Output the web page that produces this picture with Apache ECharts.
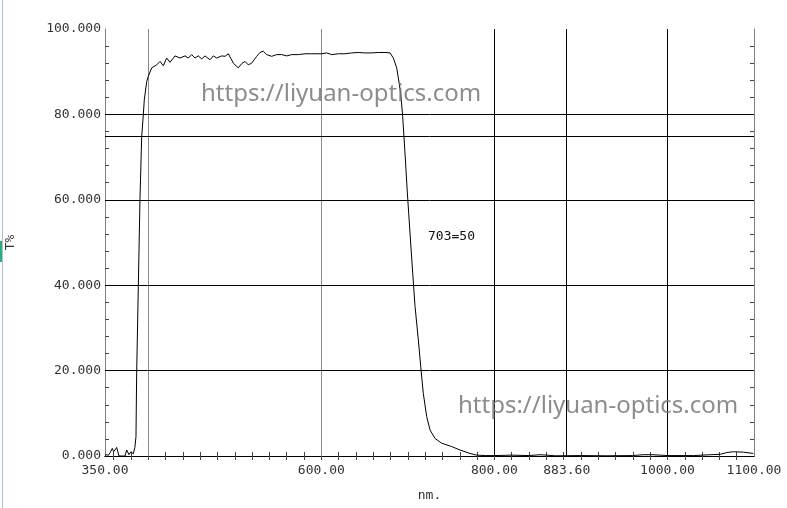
<!DOCTYPE html>
<html>
<head>
<meta charset="utf-8">
<script src="https://cdn.jsdelivr.net/npm/echarts@6/dist/echarts.min.js"></script>
<style>html,body{margin:0;padding:0;background:#fff}#c{width:787px;height:508px}</style>
</head>
<body>
<div id="c"></div>
<script>
// Wavelength (nm) and transmittance (%)
var wavelength = [350,352,354,356,358.4,360,361.6,363.5,366.2,370,373.1,375.1,377.7,380,382.7,384.5,385.8,386.6,388.5,390.4,392.4,394.3,395.4,398.2,
  400,404,409.7,413.6,417.4,421.3,425.1,430.9,436.7,442.5,446.3,450.2,454,457.8,461.8,465.6,471.3,475.2,479.1,484.9,488.7,492.5,498.3,504,508,511.8,515.6,519.5,525.3,529.1,532.9,536.9,542.6,548.4,554.2,560,565.8,573.4,581.1,588.9,600.4,606.2,612,619.6,627.4,635.1,642.7,650.5,658.2,665.8,673.6,679.4,683.2,687.1,689,
  691.7,694,696.7,699.4,702.5,705.6,708.3,712.1,714.9,717.8,721.8,725.6,731.4,739.1,750.7,760.3,771.8,779.6,
  790,800,820,840,852.7,860.8,870,900,930,960,971.8,983.3,1000,1030,1049.4,1061,1068.5,1076.1,1087.6,1099.2,1100];
var transmittance = [0.3,0.5,0.2,0.8,1.8,1.0,1.0,2.0,0.0,0.0,0.0,1.4,0.3,1.0,0.5,2.0,4.5,19.4,39.7,60,74.8,80,83.4,87.7,
  88.9,90.9,91.6,92.4,91.4,93.2,92.2,93.7,93.2,93.7,93.2,94.0,93.2,93.7,93.0,93.7,92.8,93.7,93.2,93.7,93.6,94.2,92.0,90.9,91.9,92.4,91.6,92.0,93.6,94.5,94.8,94.0,93.6,94.0,94.0,93.7,94.0,94.0,94.2,94.2,94.2,94.4,94.0,94.2,94.2,94.4,94.5,94.4,94.4,94.5,94.5,94.4,93.2,90.9,88.5,
  85,79.5,70.9,61.6,52.2,42.8,35,27.2,20.9,14.7,9.2,6.1,4.1,3.0,2.2,1.4,0.6,0.2,
  0.1,0.1,0.2,0.1,0.3,0.2,0.05,0.1,0.05,0.1,0.3,0.3,0.1,0.1,0.3,0.4,0.8,1.0,0.9,0.6,0.6];
var xLabelValues = [350, 600, 800, 883.6, 1000, 1100];
var yLabelValues = [0, 20, 40, 60, 80, 100];
var verticalGrayLines = [400, 600];
var verticalBlackLines = [800, 883.6, 1000];
var horizontalLines = [20, 40, 60, 75, 80];
var annotation = '703=50';
var watermark = 'https://liyuan-optics.com';

var xTicks = [];
for (var t = 360; t < 1100; t += 20) xTicks.push(t);
var yTicks = [];
for (var u = 4; u < 100; u += 4) yTicks.push(u);

var pts = wavelength.map(function (w, i) { return [w, transmittance[i]]; });
var mono = '"DejaVu Sans Mono", monospace';

var markData = [];
verticalGrayLines.forEach(function (v) { markData.push({xAxis: v, lineStyle: {color: '#8a8a8a', width: 1, type: 'solid'}}); });
verticalBlackLines.forEach(function (v) { markData.push({xAxis: v, lineStyle: {color: '#000', width: 1, type: 'solid'}}); });
horizontalLines.forEach(function (v) { markData.push({yAxis: v, lineStyle: {color: '#000', width: 1, type: 'solid'}}); });

var chart = echarts.init(document.getElementById('c'), null, {renderer: 'canvas'});
chart.setOption({
  animation: false,
  backgroundColor: '#fff',
  grid: {left: 105, right: 33, top: 29, bottom: 52, containLabel: false, outerBoundsMode: 'none'},
  xAxis: [{
    type: 'value', min: 350, max: 1100, position: 'bottom',
    axisLine: {show: true, lineStyle: {color: '#000', width: 1}},
    axisTick: {show: true, inside: true, length: 4, customValues: xTicks, lineStyle: {color: '#444'}},
    axisLabel: {show: true, customValues: xLabelValues, margin: 8, color: '#333', fontFamily: mono, fontSize: 13,
      formatter: function (v) { return Number(v).toFixed(2); }},
    splitLine: {show: false},
    name: 'nm.', nameLocation: 'middle', nameGap: 33,
    nameTextStyle: {color: '#333', fontFamily: mono, fontSize: 13}
  }, {
    type: 'value', min: 350, max: 1100, position: 'top',
    axisLine: {show: true, lineStyle: {color: '#000', width: 1}},
    axisTick: {show: true, inside: true, length: 4, customValues: xTicks, lineStyle: {color: '#444'}},
    axisLabel: {show: false},
    splitLine: {show: false}
  }],
  yAxis: [{
    type: 'value', min: 0, max: 100, position: 'left',
    axisLine: {show: true, lineStyle: {color: '#808080', width: 1}},
    axisTick: {show: true, inside: true, length: 4, customValues: yTicks, lineStyle: {color: '#444'}},
    axisLabel: {show: true, customValues: yLabelValues, margin: 4, color: '#333', fontFamily: mono, fontSize: 13,
      formatter: function (v) { return Number(v).toFixed(3); }},
    splitLine: {show: false},
    name: 'T%', nameLocation: 'middle', nameGap: 88, nameRotate: 90,
    nameTextStyle: {color: '#333', fontFamily: mono, fontSize: 13}
  }, {
    type: 'value', min: 0, max: 100, position: 'right',
    axisLine: {show: true, lineStyle: {color: '#808080', width: 1}},
    axisTick: {show: true, inside: true, length: 4, customValues: yTicks, lineStyle: {color: '#444'}},
    axisLabel: {show: false},
    splitLine: {show: false}
  }],
  series: [{
    type: 'line', data: pts, xAxisIndex: 0, yAxisIndex: 0,
    showSymbol: false, symbol: 'none', smooth: false,
    lineStyle: {color: '#000', width: 1},
    z: 3,
    markLine: {silent: true, symbol: ['none', 'none'], label: {show: false}, animation: false, z: 2, data: markData}
  }],
  graphic: [
    {type: 'line', shape: {x1: 2.5, y1: 0, x2: 2.5, y2: 508}, style: {stroke: '#b8c0cc', lineWidth: 1}, silent: true},
    {type: 'rect', shape: {x: 0, y: 241, width: 2, height: 21}, style: {fill: '#22b37a'}, silent: true},
    {type: 'text', left: 428, top: 230, style: {text: annotation, fill: '#111', font: '13px ' + mono}, silent: true},
    {type: 'text', left: 201, top: 82, style: {text: watermark, fill: 'rgba(120,120,120,0.85)', font: '24px "Noto Sans", sans-serif'}, silent: true, z: 10},
    {type: 'text', left: 458, top: 394, style: {text: watermark, fill: 'rgba(120,120,120,0.85)', font: '24px "Noto Sans", sans-serif'}, silent: true, z: 10}
  ]
});
</script>
</body>
</html>
